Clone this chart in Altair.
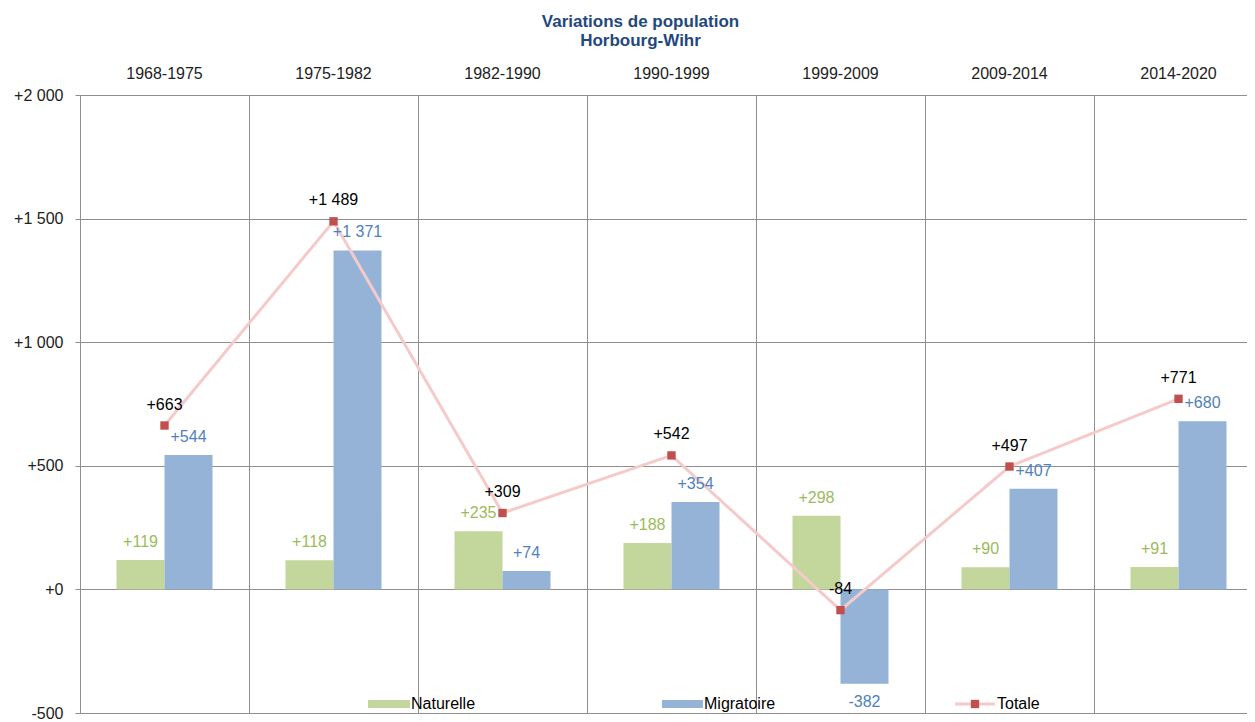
import altair as alt
import pandas as pd

periods = ["1968-1975", "1975-1982", "1982-1990", "1990-1999", "1999-2009", "2009-2014", "2014-2020"]
naturelle = [119, 118, 235, 188, 298, 90, 91]
migratoire = [544, 1371, 74, 354, -382, 407, 680]
totale = [663, 1489, 309, 542, -84, 497, 771]
series = ["Naturelle", "Migratoire"]
y_ticks = [-500, 0, 500, 1000, 1500, 2000]


def fmt(v):
    s = f"{abs(v):,}".replace(",", " ")
    return ("+" if v >= 0 else "-") + s


bars = pd.DataFrame({
    "periode": periods * 2,
    "serie": ["Naturelle"] * len(periods) + ["Migratoire"] * len(periods),
    "valeur": naturelle + migratoire,
})
bars["label"] = bars["valeur"].map(fmt)

tot = pd.DataFrame({"periode": periods, "valeur": totale})
tot["label"] = tot["valeur"].map(fmt)

FONT = "Liberation Sans"
GRID = "#8f8f8f"

x_enc = alt.X(
    "periode:N",
    sort=periods,
    scale=alt.Scale(domain=periods, range=[0, 1183], paddingInner=0, paddingOuter=0),
    axis=alt.Axis(
        orient="top", title=None, labelAngle=0, labelFontSize=16, labelFont=FONT,
        labelColor="#222222", domain=False, ticks=False, labelPadding=14,
        grid=True, gridColor=GRID, gridWidth=1, bandPosition=0,
    ),
)
y_enc = alt.Y(
    "valeur:Q",
    scale=alt.Scale(domain=[-500, 2000], nice=False, zero=False),
    axis=alt.Axis(
        values=y_ticks, title=None, labelFontSize=16, labelFont=FONT, labelColor="#222222",
        labelExpr="(datum.value < 0 ? '-' : '+') + replace(format(abs(datum.value), ','), ',', ' ')",
        tickSize=5, tickColor=GRID, domain=True, domainColor=GRID, grid=True,
        gridColor=GRID, gridWidth=1, labelPadding=12,
    ),
)
xoff = alt.XOffset(
    "serie:N", sort=series,
    scale=alt.Scale(domain=series, paddingInner=0, paddingOuter=0.76),
)

base_bars = alt.Chart(bars)

bar_layer = base_bars.mark_bar().encode(
    x=x_enc, xOffset=xoff, y=y_enc,
    color=alt.Color("serie:N", scale=alt.Scale(domain=series, range=["#c3d69b", "#95b3d7"]), legend=None),
)

nat_text = base_bars.transform_filter("datum.serie == 'Naturelle'").mark_text(
    fontSize=16, font=FONT, color="#9bbb59", baseline="middle", dy=-18
).encode(x=x_enc, xOffset=xoff, y=y_enc, text="label:N")

mig_pos_text = base_bars.transform_filter("datum.serie == 'Migratoire' && datum.valeur >= 0").mark_text(
    fontSize=16, font=FONT, color="#4f81bd", baseline="middle", dy=-18
).encode(x=x_enc, xOffset=xoff, y=y_enc, text="label:N")

mig_neg_text = base_bars.transform_filter("datum.serie == 'Migratoire' && datum.valeur < 0").mark_text(
    fontSize=16, font=FONT, color="#4f81bd", baseline="middle", dy=18
).encode(x=x_enc, xOffset=xoff, y=y_enc, text="label:N")

base_tot = alt.Chart(tot)
line_layer = base_tot.mark_line(color="#f4caca", strokeWidth=3).encode(x=x_enc, y=y_enc)
pt_layer = base_tot.mark_square(size=70, color="#c0504d", opacity=1).encode(x=x_enc, y=y_enc)
tot_text = base_tot.mark_text(
    fontSize=16, font=FONT, color="#000000", baseline="middle", dy=-21
).encode(x=x_enc, y=y_enc, text="label:N")

# legend drawn inside the plot area
leg = alt.Chart(pd.DataFrame({"k": [0]}))
LY = 609
leg_nat = leg.mark_rect(color="#c3d69b").encode(
    x=alt.value(288), x2=alt.value(330), y=alt.value(LY - 4), y2=alt.value(LY + 4))
leg_nat_t = leg.mark_text(text="Naturelle", align="left", baseline="middle", fontSize=16, font=FONT, color="#000").encode(
    x=alt.value(331), y=alt.value(LY))
leg_mig = leg.mark_rect(color="#95b3d7").encode(
    x=alt.value(582), x2=alt.value(623), y=alt.value(LY - 4), y2=alt.value(LY + 4))
leg_mig_t = leg.mark_text(text="Migratoire", align="left", baseline="middle", fontSize=16, font=FONT, color="#000").encode(
    x=alt.value(624), y=alt.value(LY))
leg_tot_l = leg.mark_rule(color="#f4caca", strokeWidth=3).encode(
    x=alt.value(875), x2=alt.value(915), y=alt.value(LY))
leg_tot_p = leg.mark_square(size=70, color="#c0504d", opacity=1).encode(
    x=alt.value(895), y=alt.value(LY))
leg_tot_t = leg.mark_text(text="Totale", align="left", baseline="middle", fontSize=16, font=FONT, color="#000").encode(
    x=alt.value(917), y=alt.value(LY))

chart = alt.layer(
    bar_layer, line_layer, pt_layer, nat_text, mig_pos_text, mig_neg_text, tot_text,
    leg_nat, leg_nat_t, leg_mig, leg_mig_t, leg_tot_l, leg_tot_p, leg_tot_t,
).properties(
    width=1167,
    height=618,
    autosize=alt.AutoSizeParams(type="none"),
    padding={"left": 72, "top": 87, "right": 0, "bottom": 9},
    title=alt.TitleParams(
        text=["Variations de population", "Horbourg-Wihr"],
        fontSize=17, font=FONT, fontWeight="bold", color="#1f497d",
        anchor="middle", dx=-23, offset=15, lineHeight=19,
    ),
).configure_view(stroke=None).configure(background="white")

chart.save("out.html", embed_options={"renderer": "svg", "actions": False})
